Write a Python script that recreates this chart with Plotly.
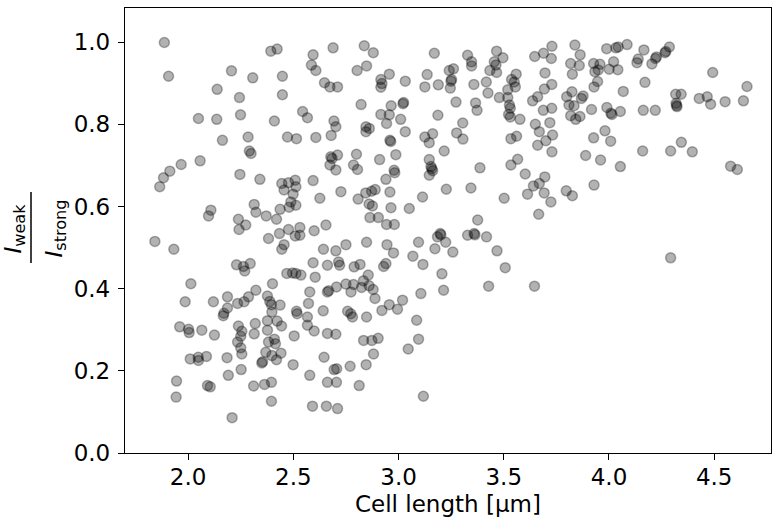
import plotly.graph_objects as go

# Cell length [um] and I_weak/I_strong
cell_length_top = [
    1.887,1.907,2.206,2.138,2.307,2.244,2.393,2.423,2.448,2.448,2.049,2.136,2.249,2.410,2.544,2.567,2.594,2.586,2.607,2.689,2.648,2.674,2.710,2.693,
    2.837,2.880,2.803,2.848,2.916,2.921,2.916,2.956,3.032,2.822,2.965,3.021,3.024,2.916,2.956,3.010,3.170,3.136,3.125,3.189,3.241,3.261,3.249,3.252,3.246,3.328,3.347,3.347,3.358,3.273,3.366,3.373,3.187,3.466,3.496,3.455,3.463,3.434,3.466,3.417,3.425,3.479,3.559,3.537,3.550,3.555,3.519,3.519,3.527,3.531,3.523,3.531,3.577,3.647,3.689,3.729,3.726,3.696,3.728,3.693,3.661,3.637,3.688,3.728,
    3.838,3.863,3.818,3.859,3.826,3.989,4.033,4.044,4.086,3.927,3.957,3.949,3.933,4.022,4.001,4.042,4.166,4.139,4.133,4.204,4.221,4.226,4.266,4.270,4.287,3.946,3.929,4.171,4.068,4.493,4.656,3.824,3.799,3.877,3.869,3.810,3.834,3.917,3.818,3.862,3.842,3.990,4.009,4.014,4.054,4.163,4.220,4.317,4.343,4.319,4.321,4.323,4.429,4.467,4.483,4.552,4.639,
]
ratio_top = [
    0.999,0.917,0.930,0.885,0.913,0.865,0.978,0.983,0.917,0.872,0.814,0.812,0.823,0.808,0.831,0.816,0.969,0.944,0.931,0.986,0.901,0.891,0.891,0.808,
    0.991,0.974,0.931,0.942,0.909,0.899,0.890,0.922,0.905,0.848,0.845,0.850,0.853,0.824,0.823,0.812,0.973,0.921,0.891,0.896,0.931,0.935,0.905,0.909,0.888,0.968,0.952,0.942,0.897,0.854,0.852,0.834,0.822,0.978,0.962,0.952,0.944,0.931,0.926,0.903,0.876,0.865,0.922,0.909,0.903,0.891,0.884,0.865,0.847,0.839,0.824,0.818,0.812,0.965,0.973,0.990,0.960,0.925,0.897,0.886,0.867,0.857,0.834,0.839,
    0.993,0.969,0.948,0.943,0.922,0.984,0.986,0.988,0.994,0.948,0.946,0.932,0.928,0.952,0.934,0.933,0.981,0.959,0.950,0.947,0.960,0.964,0.974,0.977,0.988,0.904,0.891,0.902,0.880,0.926,0.892,0.879,0.867,0.869,0.863,0.847,0.845,0.836,0.821,0.819,0.812,0.841,0.827,0.824,0.831,0.834,0.834,0.873,0.873,0.851,0.846,0.843,0.863,0.867,0.849,0.855,0.857,
]
cell_length_mid = [
    2.702,2.163,2.285,2.291,2.299,2.472,2.515,2.607,2.680,2.678,2.684,2.710,2.674,2.702,2.057,1.967,1.913,1.883,1.865,2.246,2.341,2.445,2.456,2.477,2.509,2.512,2.499,2.594,2.626,2.488,2.480,2.512,2.437,2.314,2.322,2.371,2.420,2.108,2.097,2.239,2.274,2.242,2.477,2.531,2.599,2.655,
    2.845,2.861,2.845,2.943,3.032,2.959,2.963,3.305,3.276,3.306,3.125,3.162,3.146,3.217,2.987,2.910,2.800,2.786,2.805,2.979,2.982,2.940,3.146,3.154,3.162,3.158,3.146,2.726,2.808,2.844,2.872,2.889,2.959,2.860,2.876,2.964,2.864,2.904,2.943,2.980,3.051,3.114,3.227,3.344,3.387,3.376,3.502,3.534,3.566,3.534,3.561,3.602,3.641,3.669,3.695,3.613,3.692,3.724,3.666,3.650,3.669,3.700,3.661,3.719,3.732,3.729,
    3.927,3.981,4.008,3.889,3.960,4.054,4.160,4.293,4.344,4.396,4.578,4.610,3.929,3.797,3.826,
]
ratio_mid = [
    0.794,0.761,0.769,0.735,0.729,0.769,0.765,0.768,0.773,0.721,0.717,0.725,0.701,0.689,0.711,0.702,0.686,0.670,0.648,0.678,0.666,0.656,0.640,0.658,0.664,0.648,0.630,0.663,0.620,0.611,0.598,0.603,0.593,0.605,0.586,0.577,0.569,0.591,0.577,0.569,0.555,0.544,0.544,0.549,0.541,0.555,
    0.794,0.790,0.782,0.802,0.782,0.761,0.758,0.803,0.779,0.764,0.769,0.777,0.755,0.735,0.726,0.714,0.727,0.701,0.690,0.688,0.682,0.666,0.714,0.697,0.687,0.692,0.676,0.636,0.618,0.633,0.637,0.641,0.635,0.606,0.601,0.597,0.573,0.573,0.556,0.556,0.595,0.623,0.642,0.645,0.694,0.567,0.620,0.701,0.715,0.765,0.771,0.679,0.650,0.656,0.672,0.630,0.633,0.611,0.581,0.800,0.782,0.760,0.749,0.804,0.774,0.733,
    0.767,0.784,0.759,0.724,0.713,0.697,0.735,0.735,0.756,0.733,0.698,0.690,0.652,0.638,0.626,
]
cell_length_low = [
    2.382,2.434,2.531,2.509,1.842,1.932,2.456,2.445,2.643,2.702,2.715,2.230,2.263,2.269,2.295,2.594,2.662,2.469,2.496,2.512,2.536,2.604,2.013,2.401,2.322,2.187,2.235,2.266,2.287,2.377,2.388,2.396,2.437,2.578,2.662,2.668,2.705,1.986,2.120,2.187,2.170,2.167,2.398,2.515,2.518,2.572,2.642,2.567,2.567,2.599,2.662,2.702,1.960,2.002,2.005,2.065,2.125,2.319,2.377,2.423,2.444,2.239,2.255,2.250,2.314,2.377,2.504,2.235,2.382,2.410,2.415,
    2.250,2.255,2.369,2.398,2.441,2.420,2.010,2.048,2.049,2.087,2.185,2.252,2.191,2.350,2.354,2.499,1.945,1.943,2.092,2.105,2.311,2.363,2.396,2.396,2.209,2.578,2.646,2.694,2.706,2.662,2.705,2.591,2.657,2.710,
    3.185,3.198,3.201,3.224,3.328,3.359,3.363,3.418,3.468,3.507,3.428,3.646,3.258,3.173,3.095,3.068,3.116,3.206,3.214,3.106,2.945,2.976,2.848,2.750,2.720,2.789,2.817,2.929,2.940,2.856,2.833,2.750,2.786,2.774,2.824,2.860,2.879,2.888,2.956,2.921,2.995,3.019,2.758,2.773,2.781,2.848,3.086,3.095,2.834,2.873,2.903,
    3.046,2.881,2.846,2.770,2.813,3.118,4.293,
]
ratio_low = [
    0.522,0.534,0.530,0.528,0.515,0.496,0.507,0.496,0.496,0.492,0.465,0.458,0.454,0.443,0.461,0.463,0.457,0.437,0.438,0.437,0.433,0.428,0.412,0.412,0.396,0.380,0.364,0.368,0.380,0.382,0.369,0.361,0.360,0.392,0.392,0.395,0.404,0.368,0.368,0.353,0.340,0.334,0.343,0.345,0.339,0.364,0.346,0.331,0.311,0.297,0.291,0.289,0.307,0.301,0.293,0.299,0.287,0.315,0.322,0.321,0.309,0.309,0.296,0.284,0.290,0.299,0.285,0.270,0.270,0.277,0.266,
    0.256,0.241,0.245,0.237,0.243,0.227,0.229,0.233,0.225,0.235,0.232,0.203,0.189,0.219,0.222,0.215,0.175,0.136,0.164,0.161,0.163,0.167,0.172,0.126,0.086,0.189,0.233,0.203,0.205,0.172,0.172,0.114,0.114,0.108,
    0.526,0.534,0.531,0.513,0.530,0.534,0.531,0.526,0.492,0.451,0.406,0.406,0.489,0.497,0.513,0.479,0.459,0.436,0.396,0.388,0.507,0.487,0.513,0.507,0.457,0.453,0.459,0.454,0.461,0.433,0.419,0.411,0.410,0.392,0.403,0.407,0.398,0.376,0.361,0.347,0.350,0.372,0.345,0.339,0.331,0.331,0.323,0.277,0.274,0.274,0.279,
    0.253,0.241,0.215,0.211,0.164,0.138,0.475,
]

x_ticks = [2.0, 2.5, 3.0, 3.5, 4.0, 4.5]
y_ticks = [0.0, 0.2, 0.4, 0.6, 0.8, 1.0]

cell_length = cell_length_top + cell_length_mid + cell_length_low
ratio = ratio_top + ratio_mid + ratio_low

FONT = "DejaVu Sans"
fig = go.Figure()
fig.add_trace(go.Scatter(
    x=cell_length, y=ratio, mode="markers",
    marker=dict(size=10, color="rgba(0,0,0,0.3)",
                line=dict(color="rgba(0,0,0,0.3)", width=1.5)),
    showlegend=False, hoverinfo="skip",
))

axis_common = dict(
    showline=True, linecolor="black", linewidth=1.3, mirror=True,
    ticks="outside", ticklen=6, tickwidth=1.3, tickcolor="black",
    showgrid=False, zeroline=False,
    tickfont=dict(family=FONT, size=23, color="black"),
    tickformat=".1f",
)
fig.update_xaxes(range=[1.70, 4.77], tickvals=x_ticks, ticklabelstandoff=-3, **axis_common)
fig.update_yaxes(range=[0, 1.083], tickvals=y_ticks, ticklabelstandoff=3, **axis_common)

fig.update_layout(
    width=778, height=521,
    margin=dict(l=125, r=7, t=8, b=68),
    plot_bgcolor="white", paper_bgcolor="white",
    font=dict(family=FONT, size=23, color="black"),
)

# x-axis title
fig.add_annotation(text="Cell length [μm]", xref="paper", yref="paper",
                   x=0.5, y=0, yshift=-51, xanchor="center", yanchor="middle",
                   showarrow=False, font=dict(family=FONT, size=23, color="black"))
# y-axis title: fraction I_weak / I_strong
fig.add_annotation(text="<i>I</i><sub>weak</sub>", xref="paper", yref="paper",
                   x=0, y=0.5, xshift=-111, yshift=2, textangle=-90,
                   xanchor="center", yanchor="middle", showarrow=False,
                   font=dict(family=FONT, size=23, color="black"))
fig.add_annotation(text="<i>I</i><sub>strong</sub>", xref="paper", yref="paper",
                   x=0, y=0.5, xshift=-70, yshift=2, textangle=-90,
                   xanchor="center", yanchor="middle", showarrow=False,
                   font=dict(family=FONT, size=23, color="black"))
fig.add_shape(type="line", xref="paper", yref="paper",
              x0=-0.1455, x1=-0.1455, y0=0.427, y1=0.5865,
              line=dict(color="black", width=1.5))

fig.write_html(
    "out.html",
    config={"displayModeBar": False},
    post_script="document.body.style.margin='0';document.body.style.padding='0';"
                "document.body.style.overflow='hidden';",
)
